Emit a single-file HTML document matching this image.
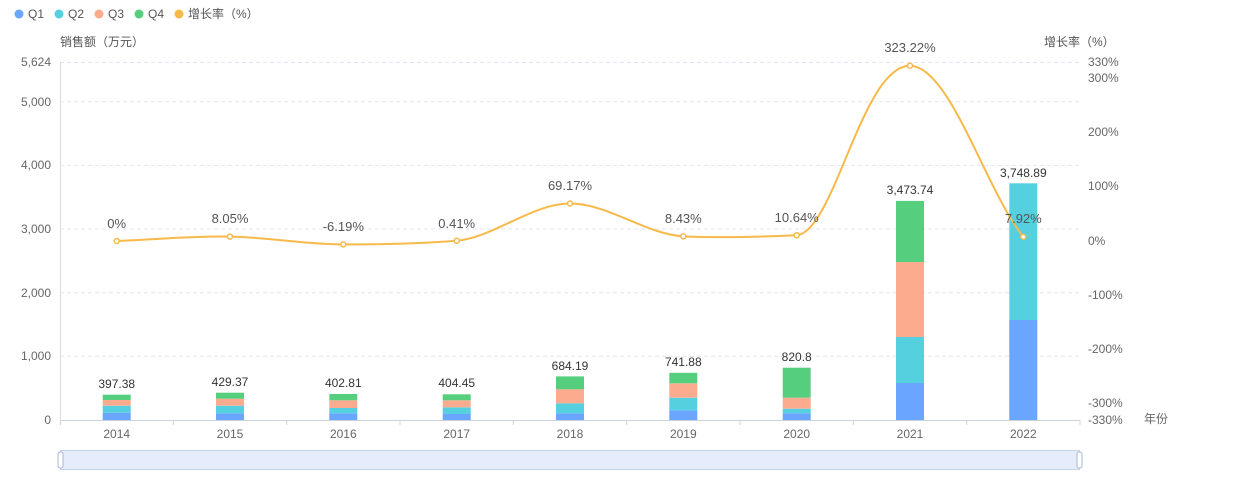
<!DOCTYPE html>
<html><head><meta charset="utf-8"><style>
html,body{margin:0;padding:0;background:#fff;}
svg{display:block;font-family:"Liberation Sans","Noto Sans CJK SC",sans-serif;}
</style></head><body>
<svg width="1244" height="480" viewBox="0 0 1244 480" xmlns="http://www.w3.org/2000/svg">
<g font-size="12" fill="#555">
<circle cx="19" cy="14" r="4.5" fill="#6aa5ff"/><text x="28" y="18">Q1</text>
<circle cx="59" cy="14" r="4.5" fill="#55d0df"/><text x="68" y="18">Q2</text>
<circle cx="99" cy="14" r="4.5" fill="#fdab8e"/><text x="108" y="18">Q3</text>
<circle cx="139" cy="14" r="4.5" fill="#55cf7e"/><text x="148" y="18">Q4</text>
<circle cx="179" cy="14" r="4.5" fill="#f7b94a"/><text x="188" y="18">增长率（%）</text>
</g>
<text x="60" y="46" font-size="12" fill="#555">销售额（万元）</text>
<text x="1044" y="46" font-size="12" fill="#555">增长率（%）</text>
<g stroke="#e3e6ef" stroke-dasharray="4,3" stroke-width="1">
<line x1="60" x2="1080" y1="62.5" y2="62.5"/>
<line x1="60" x2="1080" y1="101.7" y2="101.7"/>
<line x1="60" x2="1080" y1="165.4" y2="165.4"/>
<line x1="60" x2="1080" y1="229" y2="229"/>
<line x1="60" x2="1080" y1="292.7" y2="292.7"/>
<line x1="60" x2="1080" y1="356.3" y2="356.3"/>
</g>
<line x1="60.5" x2="60.5" y1="62" y2="420" stroke="#d6dbe3"/>
<line x1="60" x2="1080" y1="420.5" y2="420.5" stroke="#ccd3dc"/>
<g stroke="#ccd3dc">
<line x1="60.5" x2="60.5" y1="420" y2="425"/><line x1="173.3" x2="173.3" y1="420" y2="425"/><line x1="286.7" x2="286.7" y1="420" y2="425"/><line x1="400" x2="400" y1="420" y2="425"/><line x1="513.3" x2="513.3" y1="420" y2="425"/><line x1="626.7" x2="626.7" y1="420" y2="425"/><line x1="740" x2="740" y1="420" y2="425"/><line x1="853.3" x2="853.3" y1="420" y2="425"/><line x1="966.7" x2="966.7" y1="420" y2="425"/><line x1="1080" x2="1080" y1="420" y2="425"/>
</g>
<g font-size="12" fill="#666" text-anchor="end">
<text x="51" y="66">5,624</text><text x="51" y="106">5,000</text><text x="51" y="169">4,000</text><text x="51" y="233">3,000</text><text x="51" y="297">2,000</text><text x="51" y="360">1,000</text><text x="51" y="424">0</text>
</g>
<g font-size="12" fill="#666">
<text x="1088" y="66">330%</text><text x="1088" y="82">300%</text><text x="1088" y="136">200%</text><text x="1088" y="190">100%</text><text x="1088" y="245">0%</text><text x="1088" y="299">-100%</text><text x="1088" y="353">-200%</text><text x="1088" y="407">-300%</text><text x="1088" y="424">-330%</text>
<text x="1144" y="423">年份</text>
</g>
<g font-size="12" fill="#666" text-anchor="middle">
<text x="116.7" y="438">2014</text><text x="230" y="438">2015</text><text x="343.3" y="438">2016</text><text x="456.7" y="438">2017</text><text x="570" y="438">2018</text><text x="683.3" y="438">2019</text><text x="796.7" y="438">2020</text><text x="910" y="438">2021</text><text x="1023.3" y="438">2022</text>
</g>
<g>
<rect x="102.7" y="412.7" width="28" height="7.3" fill="#6aa5ff"/><rect x="102.7" y="405.7" width="28" height="7" fill="#55d0df"/><rect x="102.7" y="400" width="28" height="5.7" fill="#fdab8e"/><rect x="102.7" y="394.7" width="28" height="5.3" fill="#55cf7e"/>
<rect x="216" y="413.3" width="28" height="6.7" fill="#6aa5ff"/><rect x="216" y="405.7" width="28" height="7.6" fill="#55d0df"/><rect x="216" y="398.7" width="28" height="7" fill="#fdab8e"/><rect x="216" y="392.7" width="28" height="6" fill="#55cf7e"/>
<rect x="329.3" y="413.3" width="28" height="6.7" fill="#6aa5ff"/><rect x="329.3" y="408" width="28" height="5.3" fill="#55d0df"/><rect x="329.3" y="400.3" width="28" height="7.7" fill="#fdab8e"/><rect x="329.3" y="394" width="28" height="6.3" fill="#55cf7e"/>
<rect x="442.7" y="414" width="28" height="6" fill="#6aa5ff"/><rect x="442.7" y="407.3" width="28" height="6.7" fill="#55d0df"/><rect x="442.7" y="400.3" width="28" height="7" fill="#fdab8e"/><rect x="442.7" y="394.3" width="28" height="6" fill="#55cf7e"/>
<rect x="556" y="413.3" width="28" height="6.7" fill="#6aa5ff"/><rect x="556" y="403.3" width="28" height="10" fill="#55d0df"/><rect x="556" y="389.3" width="28" height="14" fill="#fdab8e"/><rect x="556" y="376.4" width="28" height="12.9" fill="#55cf7e"/>
<rect x="669.3" y="410.3" width="28" height="9.7" fill="#6aa5ff"/><rect x="669.3" y="397.7" width="28" height="12.6" fill="#55d0df"/><rect x="669.3" y="383.3" width="28" height="14.4" fill="#fdab8e"/><rect x="669.3" y="372.8" width="28" height="10.5" fill="#55cf7e"/>
<rect x="782.7" y="413.3" width="28" height="6.7" fill="#6aa5ff"/><rect x="782.7" y="408.7" width="28" height="4.6" fill="#55d0df"/><rect x="782.7" y="397.7" width="28" height="11" fill="#fdab8e"/><rect x="782.7" y="367.7" width="28" height="30" fill="#55cf7e"/>
<rect x="896" y="383" width="28" height="37" fill="#6aa5ff"/><rect x="896" y="337" width="28" height="46" fill="#55d0df"/><rect x="896" y="262" width="28" height="75" fill="#fdab8e"/><rect x="896" y="200.9" width="28" height="61.1" fill="#55cf7e"/>
<rect x="1009.3" y="320" width="28" height="100" fill="#6aa5ff"/><rect x="1009.3" y="183.3" width="28" height="136.7" fill="#55d0df"/>
</g>
<g font-size="12" fill="#333" text-anchor="middle">
<text x="116.7" y="388">397.38</text><text x="230" y="386">429.37</text><text x="343.3" y="387">402.81</text><text x="456.7" y="387">404.45</text><text x="570" y="370">684.19</text><text x="683.3" y="366">741.88</text><text x="796.7" y="361">820.8</text><text x="910" y="194">3,473.74</text><text x="1023.3" y="177">3,748.89</text>
</g>
<path d="M116.7,241 C154.5,239.5 192.2,236 230,236.6 C267.8,237.2 305.5,244.4 343.3,244.4 C381.1,244.4 418.9,244 456.7,240.8 C494.5,237 532.2,203.5 570,203.5 C607.8,203.5 645.5,234 683.3,236.4 C721.1,238 758.9,237 796.7,235.2 C834.5,232 862,65.5 910,65.7 C950,66 985.5,190 1023.3,236.7" fill="none" stroke="#f7b94a" stroke-width="2"/>
<g fill="#fff" stroke="#f7b94a" stroke-width="1.5">
<circle cx="116.7" cy="241" r="2.5"/><circle cx="230" cy="236.6" r="2.5"/><circle cx="343.3" cy="244.4" r="2.5"/><circle cx="456.7" cy="240.8" r="2.5"/><circle cx="570" cy="203.5" r="2.5"/><circle cx="683.3" cy="236.4" r="2.5"/><circle cx="796.7" cy="235.2" r="2.5"/><circle cx="910" cy="65.7" r="2.5"/><circle cx="1023.3" cy="236.7" r="2.5"/>
</g>
<g font-size="13" fill="#555" text-anchor="middle">
<text x="116.7" y="228">0%</text><text x="230" y="223">8.05%</text><text x="343.3" y="231">-6.19%</text><text x="456.7" y="228">0.41%</text><text x="570" y="190">69.17%</text><text x="683.3" y="223">8.43%</text><text x="796.7" y="222">10.64%</text><text x="910" y="52">323.22%</text><text x="1023.3" y="223">7.92%</text>
</g>
<rect x="60.5" y="450.5" width="1019" height="19" fill="#e5edfc" stroke="#c5d2ea"/>
<rect x="58" y="452" width="5" height="16" rx="2" fill="#fff" stroke="#a9b7d1"/>
<rect x="1077" y="452" width="5" height="16" rx="2" fill="#fff" stroke="#a9b7d1"/>
</svg>
</body></html>
